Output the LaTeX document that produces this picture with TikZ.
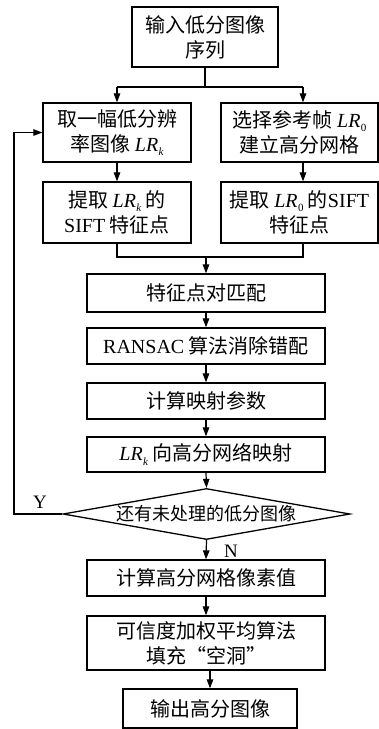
\documentclass[tikz,border=0pt]{standalone}
\usepackage{fontspec}
\setmainfont{Liberation Serif}
\newfontfamily\zh{Noto Sans CJK SC}
\usetikzlibrary{arrows.meta,shapes.geometric}
\newcommand{\LRs}[1]{{\rmfamily\itshape LR\kern0.3pt\raisebox{-0.45ex}{\fontsize{11}{11}\selectfont #1}}}
\tikzset{
  box/.style={draw, line width=1.3pt, align=center, inner sep=0pt, font={\zh\fontsize{20}{25}\selectfont}},
  arr/.style={-{Triangle[length=9pt,width=6.5pt]}, line width=1.2pt},
  ln/.style={line width=1.2pt},
  lbl/.style={font={\rmfamily\fontsize{19}{19}\selectfont}, inner sep=0pt}
}
\begin{document}
\begin{tikzpicture}[x=1pt,y=-1pt]
\useasboundingbox (0,0) rectangle (379,729);
\node[box, minimum width=146pt, minimum height=60pt] (top) at (205,37) {输入低分图像\\序列};
\node[box, minimum width=148pt, minimum height=59pt] (L1) at (117,132.5) {取一幅低分辨\\率图像 \LRs{k}};
\node[box, minimum width=157pt, minimum height=59pt] (R1) at (299.5,132.5) {选择参考帧 \LRs{\upshape 0}\\建立高分网格};
\node[box, minimum width=148pt, minimum height=61pt] (L2) at (117,212.5) {提取 \LRs{k} 的\\{\rmfamily SIFT} 特征点};
\node[box, minimum width=157pt, minimum height=61pt] (R2) at (299.5,212.5) {提取 \LRs{\upshape 0} 的{\rmfamily SIFT}\\特征点};
\node[box, minimum width=238pt, minimum height=38pt] (M1) at (206,293) {特征点对匹配};
\node[box, minimum width=238pt, minimum height=36pt] (M2) at (206,346) {{\rmfamily RANSAC} 算法消除错配};
\node[box, minimum width=238pt, minimum height=36pt] (M3) at (206,401) {计算映射参数};
\node[box, minimum width=238pt, minimum height=35pt] (M4) at (206,454.5) {\LRs{k} 向高分网络映射};
\node[draw, diamond, line width=1.3pt, inner sep=0pt, minimum width=287pt, minimum height=51pt] (D) at (206.5,514) {};
\node[font={\zh\fontsize{18}{18}\selectfont}, inner sep=0pt] (Dt) at (D.center) {还有未处理的低分图像};
\node[box, minimum width=238pt, minimum height=36pt] (L3) at (206,578) {计算高分网格像素值};
\node[box, minimum width=238pt, minimum height=54pt] (L4) at (206,643) {可信度加权平均算法\\填充“空洞”};
\node[box, minimum width=174pt, minimum height=39pt] (L5) at (210,708.5) {输出高分图像};
\node[lbl] (Y) at (40,502) {Y};
\node[lbl] (N) at (231,551) {N};
% split after top
\coordinate (s1) at (205,87);
\coordinate (sl) at (117,87);
\coordinate (sr) at (303,87);
\draw[ln] (top.south) -- (s1);
\draw[ln] (sl) -- (sr);
\draw[arr] (sl) -- (L1.north);
\draw[arr] (sr) -- (sr |- R1.north);
\draw[arr] (L1.south) -- (L2.north);
\draw[arr] (sr |- R1.south) -- (sr |- R2.north);
% merge
\coordinate (ml) at (117,257);
\coordinate (mr) at (303,257);
\coordinate (mc) at (206,257);
\draw[ln] (L2.south) -- (ml) -- (mr) -- (mr |- R2.south);
\draw[arr] (mc) -- (M1.north);
\draw[arr] (M1.south) -- (M2.north);
\draw[arr] (M2.south) -- (M3.north);
\draw[arr] (M3.south) -- (M4.north);
\draw[arr] (M4.south) -- (D.north);
\draw[arr] (D.south) -- (L3.north);
\draw[arr] (L3.south) -- (L4.north);
\draw[arr] (L4.south -| L5.north) -- (L5.north);
% loop back
\coordinate (lb) at (14,514);
\coordinate (lt) at (14,132.5);
\draw[arr] (D.west) -- (lb) -- (lt) -- (L1.west);
\end{tikzpicture}
\end{document}
